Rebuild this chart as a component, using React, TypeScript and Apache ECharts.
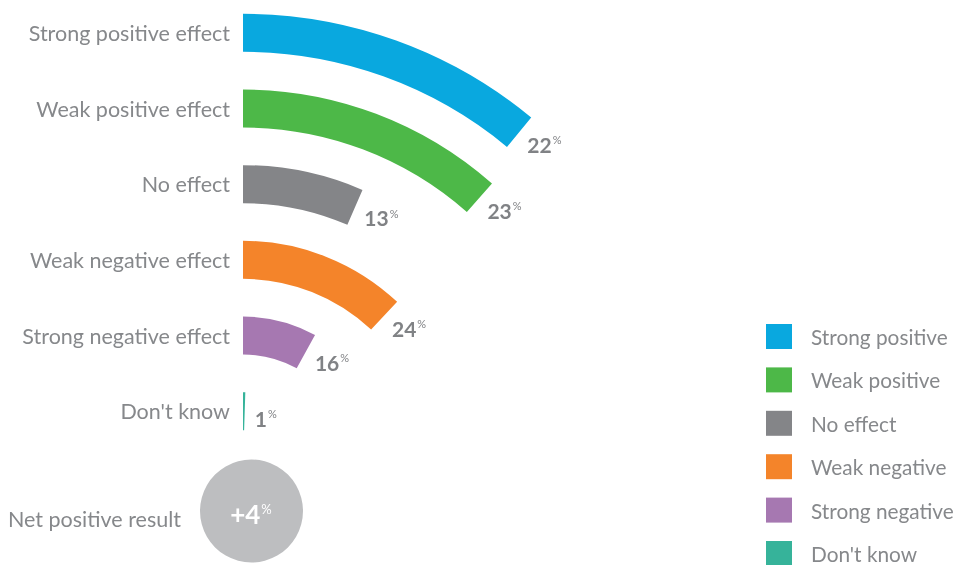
import React, { useEffect, useRef } from "react";
import * as echarts from "echarts";

// radius categories, inner to outer
const categories = [
  "Don't know",
  "Strong negative effect",
  "Weak negative effect",
  "No effect",
  "Weak positive effect",
  "Strong positive effect",
];
// legend / series order (outer to inner)
const seriesNames = [
  "Strong positive",
  "Weak positive",
  "No effect",
  "Weak negative",
  "Strong negative",
  "Don't know",
];
const seriesValues = [22, 23, 13, 24, 16, 1];
const seriesColors = ["#09A8DF", "#4DB848", "#848588", "#F4842A", "#A678B1", "#36B39A"];
const netLabel = "Net positive result";
const netValue = "+4";

const FONT = "Lato, 'Open Sans', sans-serif";

export default function App() {
  const ref = useRef<HTMLDivElement>(null);
  useEffect(() => {
    document.body.style.margin = "0";
    const chart = echarts.init(ref.current!, null, { renderer: "svg" });
    const series = seriesNames.map((name, i) => ({
      type: "bar",
      coordinateSystem: "polar",
      name,
      stack: "all",
      barWidth: 38,
      itemStyle: { color: seriesColors[i] },
      data: categories.map((_, idx) => (idx === categories.length - 1 - i ? seriesValues[i] : "-")),
      label: {
        show: true,
        position: "end",
        distance: 8,
        rotate: 0,
        offset: [2, 7],
        formatter: (p: any) => `{v|${p.value}}{p|%}`,
        rich: {
          v: { fontSize: 21, fontWeight: "bold", color: "#808285", fontFamily: FONT },
          p: { fontSize: 11, color: "#808285", fontFamily: FONT, padding: [0, 0, 9, 1] },
        },
      },
    }));
    chart.setOption({
      animation: false,
      polar: { center: [243, 466], radius: [17, 471] },
      angleAxis: {
        type: "value",
        min: 0,
        max: 200,
        startAngle: 90,
        clockwise: true,
        show: false,
      },
      radiusAxis: {
        type: "category",
        data: categories,
        axisLine: { show: false },
        axisTick: { show: false },
        splitLine: { show: false },
        axisLabel: {
          interval: 0,
          margin: 13,
          fontSize: 21.5,
          color: "#86888b",
          fontFamily: FONT,
          padding: [0, 0, 6, 0],
        },
      },
      legend: {
        orient: "vertical",
        left: 761,
        top: 319,
        height: 300,
        itemWidth: 26,
        itemHeight: 25,
        itemGap: 18.4,
        icon: "rect",
        data: seriesNames,
        textStyle: {
          fontSize: 20.8,
          lineHeight: 22,
          color: "#86888b",
          fontFamily: FONT,
          padding: [0, 0, 0, 14],
        },
      },
      graphic: [
        {
          type: "circle",
          shape: { cx: 251.5, cy: 511, r: 51.5 },
          style: { fill: "#BDBEC0" },
        },
        {
          type: "text",
          x: 181,
          y: 519,
          style: {
            text: netLabel,
            fontSize: 21.5,
            fill: "#86888b",
            fontFamily: FONT,
            align: "right",
            verticalAlign: "middle",
          },
        },
        {
          type: "text",
          x: 251,
          y: 514,
          style: {
            text: `{v|${netValue}}{p|%}`,
            align: "center",
            verticalAlign: "middle",
            rich: {
              v: { fontSize: 26, fontWeight: "bold", fill: "#ffffff", fontFamily: FONT },
              p: { fontSize: 13, fill: "#ffffff", fontFamily: FONT, padding: [0, 0, 11, 1] },
            },
          },
        },
      ],
      series,
    });
    return () => chart.dispose();
  }, []);
  return <div ref={ref} style={{ position: "fixed", left: 0, top: 0, width: 959, height: 565 }} />;
}
